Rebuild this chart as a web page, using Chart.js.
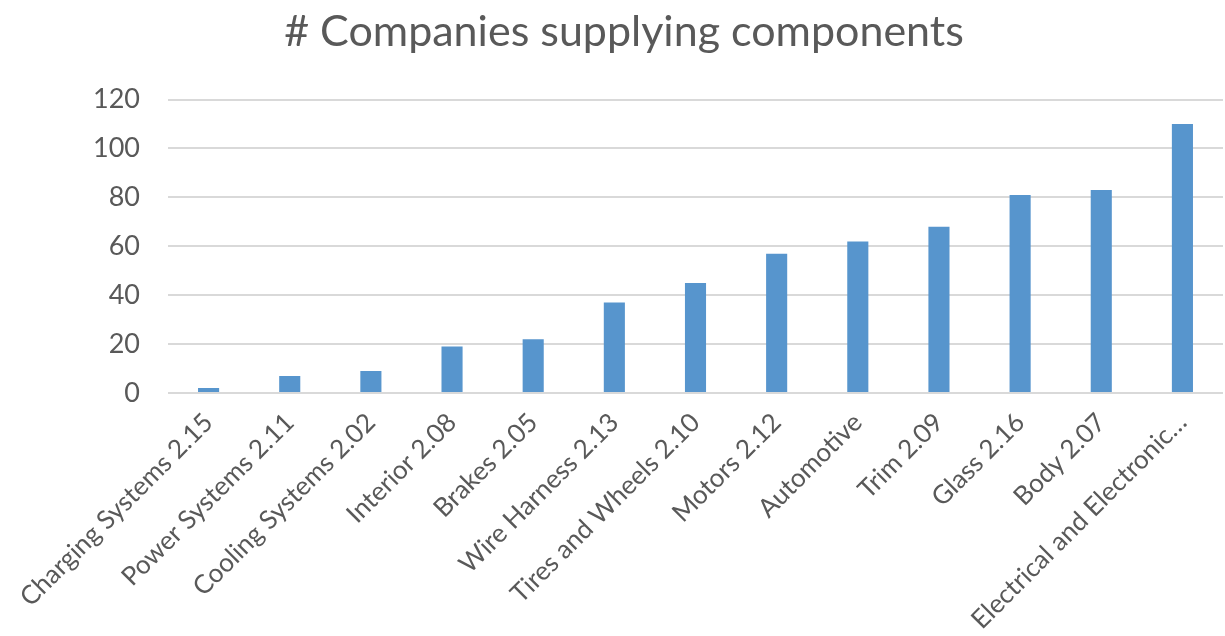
<!DOCTYPE html>
<html>
<head>
<meta charset="utf-8">
<script src="https://cdn.jsdelivr.net/npm/chart.js@4/dist/chart.umd.min.js"></script>
<style>
  html, body { margin: 0; padding: 0; background: #fff; }
  #wrap { width: 1225px; height: 636px; }
</style>
</head>
<body>
<div id="wrap"><canvas id="companiesChart"></canvas></div>
<script>
// Categorías y valores
const categories = [
  'Charging Systems 2.15', 'Power Systems 2.11', 'Cooling Systems 2.02',
  'Interior 2.08', 'Brakes 2.05', 'Wire Harness 2.13', 'Tires and Wheels 2.10',
  'Motors 2.12', 'Automotive', 'Trim 2.09', 'Glass 2.16', 'Body 2.07',
  'Electrical and Electronic…'
];
const companyCounts = [2, 7, 9, 19, 22, 37, 45, 57, 62, 68, 81, 83, 110];
const yTicks = [0, 20, 40, 60, 80, 100, 120];

const fontFamily = 'Lato, "Open Sans", sans-serif';
const textColor = '#595959';

const ctx = document.getElementById('companiesChart').getContext('2d');
new Chart(ctx, {
  type: 'bar',
  data: {
    labels: categories,
    datasets: [{
      label: '# Companies supplying components',
      data: companyCounts,
      backgroundColor: '#5795cd',
      borderWidth: 0,
      barPercentage: 0.52,
      categoryPercentage: 0.5
    }]
  },
  options: {
    responsive: true,
    maintainAspectRatio: false,
    animation: false,
    layout: { padding: { left: 25, right: 2, top: 0, bottom: 4 } },
    scales: {
      y: {
        min: 0,
        max: 120,
        afterBuildTicks: axis => { axis.ticks = yTicks.map(v => ({ value: v })); },
        // ancho fijo del eje Y para que el título quede centrado como en el original
        afterFit: axis => { axis.width = 143; },
        border: { display: false },
        grid: { color: '#d9d9d9', lineWidth: 2, drawTicks: false },
        ticks: { color: textColor, font: { family: fontFamily, size: 27 }, padding: 28 }
      },
      x: {
        border: { display: false },
        grid: { display: false },
        // altura fija del eje para dejar el área del gráfico como en el original
        afterFit: axis => { axis.height = 239; },
        ticks: {
          color: textColor,
          font: { family: fontFamily, size: 26 },
          maxRotation: 45,
          minRotation: 45,
          autoSkip: false,
          padding: 6
        }
      }
    },
    plugins: {
      legend: { display: false },
      tooltip: { enabled: false },
      title: {
        display: true,
        text: '# Companies supplying components',
        color: textColor,
        font: { family: fontFamily, size: 43, weight: 'normal' },
        padding: { top: 6, bottom: 42 }
      }
    }
  }
});
</script>
</body>
</html>
